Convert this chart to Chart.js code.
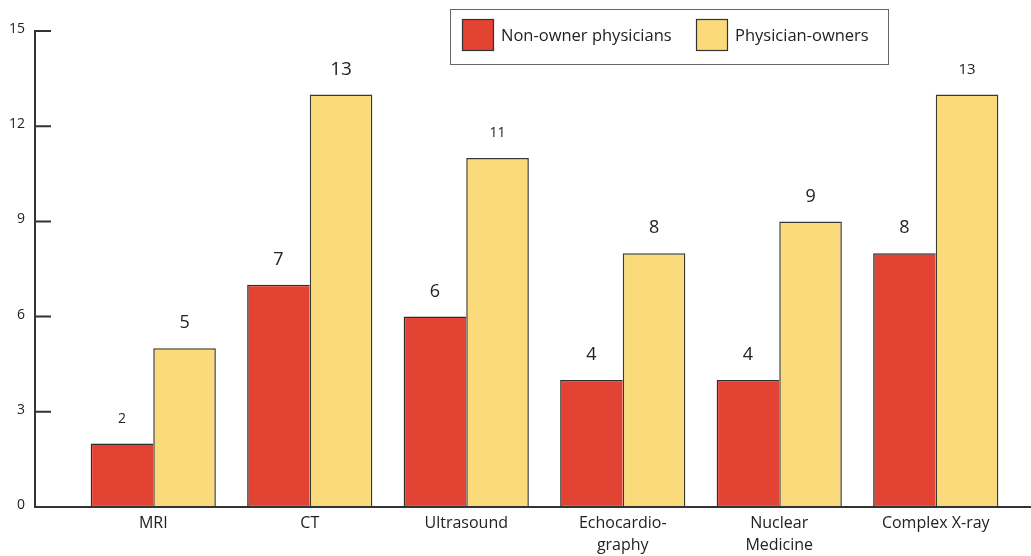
<!DOCTYPE html>
<html>
<head>
<meta charset="utf-8">
<script src="https://cdn.jsdelivr.net/npm/chart.js@4"></script>
<style>
  html, body { margin: 0; padding: 0; background: #fff; }
  #wrap { width: 1031px; height: 556px; }
</style>
</head>
<body>
<div id="wrap"><canvas id="chart" width="1031" height="556"></canvas></div>
<script>
const categories = ['MRI', 'CT', 'Ultrasound', ['Echocardio-', 'graphy'], ['Nuclear', 'Medicine'], 'Complex X-ray'];
const nonOwners = [2, 7, 6, 4, 4, 8];
const owners = [5, 13, 11, 8, 9, 13];
const yTicks = [0, 3, 6, 9, 12, 15];

// value label sizes as printed in the original (they vary a bit)
const labelSizes = [[14, 18, 18, 18, 18, 18], [18, 19, 14, 18, 18, 15]];

const RED = '#E34333';
const YELLOW = '#FADA7A';
const FONT = '"Open Sans", "Noto Sans", sans-serif';

// draws the y axis line, inward ticks, tick labels and the base line
const axisPlugin = {
    id: 'axisPlugin',
    afterDraw(chart) {
        const ctx = chart.ctx;
        const y = chart.scales.y;
        const axisX = 35;
        ctx.save();
        ctx.strokeStyle = '#333';
        ctx.lineWidth = 2;
        ctx.beginPath();
        ctx.moveTo(axisX, y.getPixelForValue(15) - 1);
        ctx.lineTo(axisX, y.getPixelForValue(0));
        ctx.lineTo(chart.width, y.getPixelForValue(0));
        yTicks.forEach(t => {
            const py = y.getPixelForValue(t);
            ctx.moveTo(axisX, py);
            ctx.lineTo(axisX + 16, py);
        });
        ctx.stroke();
        ctx.fillStyle = '#222';
        ctx.font = '14px ' + FONT;
        ctx.textAlign = 'right';
        ctx.textBaseline = 'middle';
        yTicks.forEach(t => {
            ctx.fillText(String(t), 25, y.getPixelForValue(t) - 2);
        });
        ctx.restore();
    }
};

// numbers above the bars
const valuePlugin = {
    id: 'valuePlugin',
    afterDatasetsDraw(chart) {
        const ctx = chart.ctx;
        ctx.save();
        ctx.fillStyle = '#222';
        ctx.textAlign = 'center';
        ctx.textBaseline = 'middle';
        chart.data.datasets.forEach((ds, di) => {
            chart.getDatasetMeta(di).data.forEach((bar, i) => {
                ctx.font = labelSizes[di][i] + 'px ' + FONT;
                ctx.fillText(String(ds.data[i]), bar.x, bar.y - 25);
            });
        });
        ctx.restore();
    }
};

// boxed legend at the top right
const legendPlugin = {
    id: 'legendPlugin',
    afterDraw(chart) {
        const ctx = chart.ctx;
        ctx.save();
        ctx.strokeStyle = '#666';
        ctx.lineWidth = 1;
        ctx.strokeRect(450.5, 9.5, 438, 55);
        ctx.font = '16.5px ' + FONT;
        ctx.textBaseline = 'middle';
        ctx.textAlign = 'left';
        const xs = [462, 696];
        chart.data.datasets.forEach((ds, di) => {
            ctx.fillStyle = ds.backgroundColor;
            ctx.fillRect(xs[di], 19, 31, 31);
            ctx.strokeStyle = '#333';
            ctx.lineWidth = 1.2;
            ctx.strokeRect(xs[di] + 0.5, 19.5, 31, 31);
            ctx.fillStyle = '#222';
            ctx.fillText(ds.label, xs[di] + 39, 36);
        });
        ctx.restore();
    }
};

new Chart(document.getElementById('chart').getContext('2d'), {
    type: 'bar',
    data: {
        labels: categories,
        datasets: [{
            label: 'Non-owner physicians',
            data: nonOwners,
            backgroundColor: RED,
            borderColor: '#2e2e2e',
            borderWidth: 1.5,
            borderSkipped: 'right',
            categoryPercentage: 0.8,
            barPercentage: 1.0
        }, {
            label: 'Physician-owners',
            data: owners,
            backgroundColor: YELLOW,
            borderColor: '#3a3a30',
            borderWidth: 1.5,
            categoryPercentage: 0.8,
            barPercentage: 1.0
        }]
    },
    options: {
        responsive: false,
        animation: false,
        layout: {
            padding: { left: 75, right: 17, top: 31, bottom: 0 }
        },
        plugins: {
            legend: { display: false },
            tooltip: { enabled: false }
        },
        scales: {
            x: {
                grid: { display: false, drawTicks: false },
                border: { display: false },
                ticks: {
                    color: '#222',
                    padding: 5,
                    maxRotation: 0,
                    autoSkip: false,
                    font: { family: FONT, size: 16, lineHeight: 1.4 }
                },
                afterFit(scale) { scale.height = 49; }
            },
            y: {
                display: false,
                min: 0,
                max: 15
            }
        }
    },
    plugins: [axisPlugin, valuePlugin, legendPlugin]
});
</script>
</body>
</html>
